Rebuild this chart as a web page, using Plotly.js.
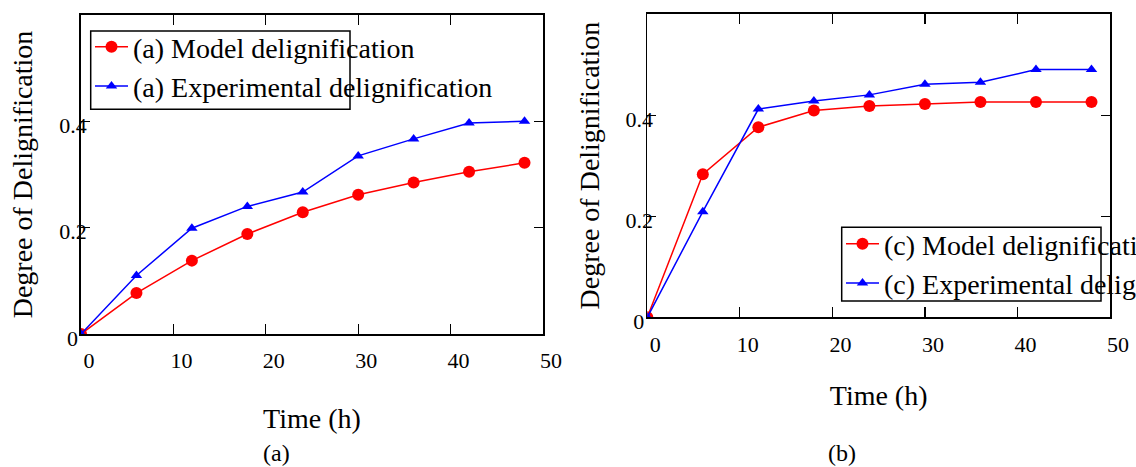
<!DOCTYPE html>
<html>
<head>
<meta charset="utf-8">
<script src="https://cdn.plot.ly/plotly-3.0.1.min.js"></script>
<style>html,body{margin:0;padding:0;background:#fff;}#chart{width:1136px;height:467px;}</style>
</head>
<body>
<div id="chart"></div>
<script>
// ---- data ----
const time = [0, 6, 12, 18, 24, 30, 36, 42, 48];
const modelA = [0, 0.077, 0.138, 0.188, 0.229, 0.262, 0.285, 0.305, 0.322];
const expA   = [0, 0.110, 0.199, 0.240, 0.267, 0.335, 0.367, 0.397, 0.400];
const modelC = [0, 0.283, 0.376, 0.409, 0.418, 0.422, 0.426, 0.426, 0.426];
const expC   = [0, 0.209, 0.412, 0.428, 0.440, 0.461, 0.465, 0.490, 0.490];
const yTickVals = [0, 0.2, 0.4];
const yTickText = ['0\u2009\u2009', '0.2', '0.4'];
const xTickVals = [0, 10, 20, 30, 40, 50];
const namesA = ['(a) Model delignification', '(a) Experimental delignification'];
const namesC = ['(c) Model delignification', '(c) Experimental delignification'];
const xTitle = 'Time (h)';
const yTitle = 'Degree of Delignification';
const captions = ['(a)', '(b)'];

const FONT = 'Liberation Serif';
const RED = '#ff0000', BLUE = '#0000ff';

function modelTrace(y, name, xa, ya, lg) {
  return {x: time, y: y, name: name, type: 'scatter', mode: 'lines+markers',
    xaxis: xa, yaxis: ya, legend: lg,
    line: {color: RED, width: 1.5},
    marker: {symbol: 'circle', size: 12, color: RED}};
}
function expTrace(y, name, xa, ya, lg) {
  return {x: time, y: y, name: name, type: 'scatter', mode: 'lines+markers',
    xaxis: xa, yaxis: ya, legend: lg,
    line: {color: BLUE, width: 1.5},
    marker: {symbol: 'triangle-up', size: 10, color: BLUE}};
}

const data = [
  modelTrace(modelA, namesA[0], 'x', 'y', 'legend'),
  expTrace(expA, namesA[1], 'x', 'y', 'legend'),
  modelTrace(modelC, namesC[0], 'x2', 'y2', 'legend2'),
  expTrace(expC, namesC[1], 'x2', 'y2', 'legend2')
];

// plot-area pixel geometry helpers
const ML = 81, MR = 26, MT = 14, MB = 133, W = 1136, H = 467;
const PW = W - ML - MR, PH = H - MT - MB;
const px = v => (v - ML) / PW;
const py = v => (H - MB - v) / PH;

function xaxisCfg(domain, anchor, standoff) {
  return {domain: domain, anchor: anchor, range: [0, 50], tickvals: xTickVals,
    showgrid: false, zeroline: false, showline: true, linecolor: '#000', linewidth: 1.8,
    mirror: 'allticks', ticks: 'inside', ticklen: 10, tickwidth: 1.2, tickcolor: '#000',
    tickfont: {family: FONT, size: 22, color: '#000'},
    ticklabelshift: 8, ticklabelstandoff: 6,
    title: {text: xTitle, font: {family: FONT, size: 28, color: '#000'}, standoff: standoff},
    automargin: false, fixedrange: true};
}
function yaxisCfg(domain, anchor) {
  return {domain: domain, anchor: anchor, range: [0, 0.6], tickvals: yTickVals, ticktext: yTickText,
    showgrid: false, zeroline: false, showline: true, linecolor: '#000', linewidth: 1.8,
    mirror: 'allticks', ticks: 'inside', ticklen: 9, tickwidth: 1.2, tickcolor: '#000',
    tickfont: {family: FONT, size: 22, color: '#000'},
    ticklabelshift: 4, ticklabelstandoff: -12,
    title: {text: yTitle, font: {family: FONT, size: 28, color: '#000'}, standoff: 18},
    automargin: false, fixedrange: true};
}

const legendBase = {xref: 'paper', yref: 'paper', xanchor: 'left', yanchor: 'top',
  bgcolor: 'rgba(0,0,0,0)', borderwidth: 0, font: {family: FONT, size: 28, color: '#000'},
  itemwidth: 33, tracegroupgap: 0};

const layout = {
  width: W, height: H,
  margin: {l: ML, r: MR, t: MT, b: MB, pad: 0, autoexpand: false},
  paper_bgcolor: '#fff', plot_bgcolor: '#fff',
  font: {family: FONT, color: '#000'},
  showlegend: true,
  xaxis: xaxisCfg([0, px(543)], 'y', 36),
  yaxis: yaxisCfg([0, py(15)], 'x'),
  xaxis2: xaxisCfg([px(647.3), 1], 'y2', 30),
  yaxis2: yaxisCfg([py(317.3), 1], 'x2'),
  legend: Object.assign({}, legendBase, {x: px(90), y: py(22)}),
  legend2: Object.assign({}, legendBase, {x: px(841), y: py(219)}),
  shapes: [
    {type: 'rect', xref: 'paper', yref: 'paper', x0: px(90.7), x1: px(350), y0: py(109.3), y1: py(31),
      line: {color: '#000', width: 1.5}, fillcolor: 'rgba(0,0,0,0)', layer: 'above'},
    {type: 'rect', xref: 'paper', yref: 'paper', x0: px(841.7), x1: px(1101), y0: py(301), y1: py(227.3),
      line: {color: '#000', width: 1.5}, fillcolor: 'rgba(0,0,0,0)', layer: 'above'}
  ],
  annotations: [
    {text: captions[0], xref: 'paper', yref: 'paper', x: px(276), y: py(453), xanchor: 'center', yanchor: 'middle',
      showarrow: false, font: {family: FONT, size: 24, color: '#000'}},
    {text: captions[1], xref: 'paper', yref: 'paper', x: px(842), y: py(453), xanchor: 'center', yanchor: 'middle',
      showarrow: false, font: {family: FONT, size: 24, color: '#000'}}
  ]
};

Plotly.newPlot('chart', data, layout, {displayModeBar: false, staticPlot: true});
</script>
</body>
</html>
